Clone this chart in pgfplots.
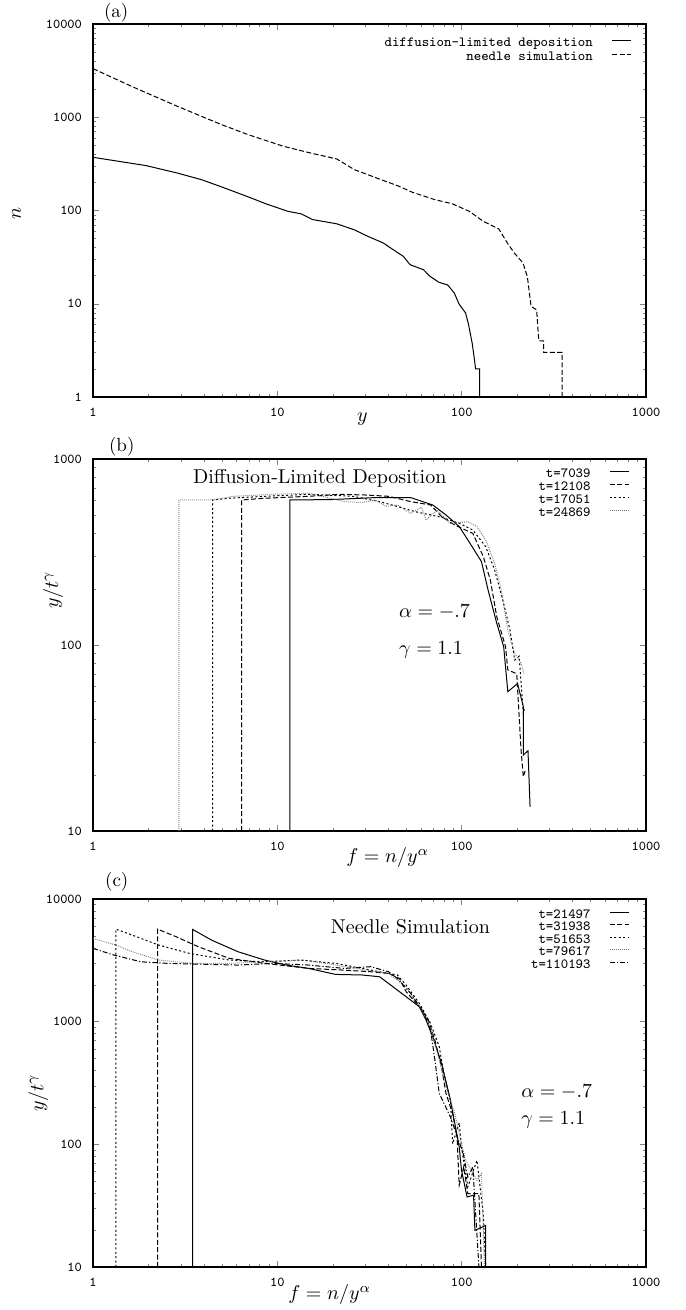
\documentclass[border=0pt]{standalone}
\usepackage{pgfplots}
\pgfplotsset{compat=1.18}

% settings shared by the three panels
\pgfplotsset{
  scale only axis, width=276.5pt,
  xmin=1, xmax=1000,
  xtick={1,10,100,1000}, xticklabels={1,10,100,1000},
  minor xtick={2,3,4,5,6,7,8,9,20,30,40,50,60,70,80,90,200,300,400,500,600,700,800,900},
  minor ytick={2,3,4,5,6,7,8,9,20,30,40,50,60,70,80,90,200,300,400,500,600,700,800,900,2000,3000,4000,5000,6000,7000,8000,9000},
  tick align=inside,
  major tick length=3pt, minor tick length=1.5pt,
  tick label style={font=\ttfamily\fontsize{6.8}{8}\selectfont},
  xticklabel style={yshift=-2pt},
  yticklabel style={xshift=-2pt},
  axis line style={line width=0.6pt},
  legend plot pos=right,
  legend cell align=right,
  legend image code/.code={\draw[#1] (0pt,1.6pt) -- (9.5pt,1.6pt);},
  legend style={draw=none, fill=none, inner sep=0pt,
    font=\ttfamily\fontsize{7}{8}\selectfont,
    nodes={inner sep=0pt, text height=4.5pt, text depth=1.5pt},
    column sep=9.5pt, anchor=north east},
  every axis plot/.append style={line width=0.5pt, black},
}
\tikzset{
  lsol/.style={solid},
  ldsh/.style={dash pattern=on 2.5pt off 1.2pt},
  ldtt/.style={dash pattern=on 1pt off 1.2pt},
  lfin/.style={black!55, dash pattern=on 0.4pt off 0.6pt},
  ldd/.style={dash pattern=on 2.5pt off 1pt on 0.6pt off 1pt},
}

\begin{document}
\begin{tikzpicture}
\useasboundingbox (-46.5pt,-21.5pt) rectangle (296pt,633.5pt);

% (a)
\begin{loglogaxis}[at={(0pt,435pt)}, anchor=south west, height=186.5pt,
  ymin=1, ymax=10000,
  ytick={1,10,100,1000,10000}, yticklabels={1,10,100,1000,10000},
  title={(a)},
  title style={at={(0.042,1)}, anchor=center, yshift=-0.5pt, font=\fontsize{9.5}{11}\selectfont},
  xlabel={$y$}, ylabel={$n$},
  xlabel style={at={(0.487,0)}, anchor=center, yshift=-11pt},
  ylabel style={at={(-0.138,0.493)}, anchor=center},
  legend style={at={(0.975,0.965)}, row sep=1pt},
]
\addplot[lsol] coordinates {(1,372) (1.94,303) (2.87,252) (3.88,214) (4.99,179) (6.95,140) (8.67,118) (11.4,98) (13.5,92) (15.5,80) (21,72) (26.2,62) (31,52.8) (37.6,44.8) (42,38.6) (48.3,32.2) (52.5,26.2) (62,23.2) (67.3,19.7) (75.2,17) (84,15.9) (91.3,13) (96.6,10) (105,7.96) (109,5.97) (114,3.79) (117,2.62) (119,2) (125,2) (125,1)};
\addplot[ldsh] coordinates {(1,3320) (1.65,2110) (2.87,1310) (4.99,832) (6.95,650) (10.8,488) (15.1,414) (21,357) (26.2,274) (36.6,214) (45.7,182) (53.9,157) (71.3,131) (88.9,118) (110,98) (131,76.6) (159,63.4) (177,44.8) (193,35) (215,27.4) (227,19.7) (238,9.38) (255,8.6) (262,4) (278,4) (278,3) (351,3) (351,1)};
\legend{diffusion-limited deposition, needle simulation}
\end{loglogaxis}

% (b)
\begin{loglogaxis}[at={(0pt,218pt)}, anchor=south west, height=186pt,
  ymin=10, ymax=1000,
  ytick={10,100,1000}, yticklabels={10,100,1000},
  title={(b)},
  title style={at={(0.052,1)}, anchor=center, yshift=0pt, font=\fontsize{9.5}{11}\selectfont},
  xlabel={$f=n/y^{\alpha}$}, ylabel={$y/t^{\gamma}$},
  xlabel style={at={(0.533,0)}, anchor=center, yshift=-13.5pt},
  ylabel style={at={(-0.072,0.648)}, anchor=center},
  legend style={at={(0.971,0.976)}, row sep=0.5pt},
]
\addplot[lsol] coordinates {(11.7,10) (11.7,602) (19.5,605) (34,620) (52.9,620) (69.7,566) (82.2,500) (97.1,433) (111,352) (128,281) (139,198) (155,131) (169,98) (178,56.1) (201,62) (216,46.6) (216,25.6) (229,27) (235,13.5)};
\addplot[ldsh] coordinates {(6.4,10) (6.4,602) (8.53,615) (14.8,630) (21.8,646) (30.4,640) (40.1,630) (52.9,590) (67.8,566) (77.8,490) (91.8,441) (115,398) (131,299) (143,224) (155,142) (173,98) (178,73.5) (199,70) (210,27.2) (216,19.6) (221,21)};
\addplot[ldtt] coordinates {(4.45,10) (4.45,602) (5.48,615) (8.53,630) (14.8,646) (25.8,630) (35.9,590) (44.8,555) (55.9,521) (77.8,486) (97.1,451) (115,415) (135,338) (151,253) (169,167) (183,120) (194,83) (205,87) (216,43) (220,45)};
\addplot[lfin] coordinates {(2.92,10) (2.92,602) (4.4,602) (5.8,630) (9.5,646) (14.8,655) (23.1,590) (28.8,583) (34,602) (39,555) (44.8,566) (52.9,510) (60.6,550) (64,470) (73.7,530) (86.6,451) (108,460) (121,433) (135,367) (151,275) (164,198) (178,120) (194,90) (210,80) (218,70)};
\legend{t=7039, t=12108, t=17051, t=24869}
\node at (rel axis cs:0.41,0.949) {Diffusion-Limited Deposition};
\node[anchor=west] at (rel axis cs:0.541,0.589) {$\alpha=-.7$};
\node[anchor=west] at (rel axis cs:0.541,0.487) {$\gamma=1.1$};
\end{loglogaxis}

% (c)
\begin{loglogaxis}[at={(0pt,0pt)}, anchor=south west, height=184pt,
  ymin=10, ymax=10000,
  ytick={10,100,1000,10000}, yticklabels={10,100,1000,10000},
  title={(c)},
  title style={at={(0.043,1)}, anchor=center, yshift=2.5pt, font=\fontsize{9.5}{11}\selectfont},
  xlabel={$f=n/y^{\alpha}$}, ylabel={$y/t^{\gamma}$},
  xlabel style={at={(0.428,0)}, anchor=center, yshift=-14pt},
  ylabel style={at={(-0.099,0.473)}, anchor=center},
  legend style={at={(0.971,0.973)}, row sep=0.25pt},
]
\addplot[lsol] coordinates {(3.47,10) (3.47,5650) (4.40,4620) (6.12,3715) (8.53,3178) (11.2,2893) (14.8,2717) (20.7,2427) (28.8,2402) (35.9,2322) (40.1,2050) (50,1596) (59,1322) (64.1,1030) (69.7,752) (77.8,456) (86.9,229) (91.8,148) (97,95) (99.8,61.5) (107,37.2) (116,38.5) (118,19.9) (135,21.8) (135,10)};
\addplot[ldsh] coordinates {(2.24,10) (2.24,5680) (2.83,4920) (3.73,4080) (5.48,3283) (8.53,2988) (14.8,2717) (23.1,2630) (32.1,2552) (40.1,2473) (46,2250) (50,1754) (59,1322) (66,1030) (71.6,706) (77.8,428) (82.2,260) (89.3,178) (94.4,115) (97,46.4) (102.6,65.5) (108,39.7) (124,39.7) (128,10)};
\addplot[ldtt] coordinates {(1.33,10) (1.33,5680) (1.63,5080) (2.27,4210) (3.34,3600) (5.48,3178) (8.53,3076) (13.3,3178) (20.7,2988) (28.8,2717) (35.9,2552) (44.8,2402) (50,1986) (59,1406) (67.8,966) (75.6,624) (80.1,378) (86.9,229) (89.3,101) (97,150) (99.8,95) (108,45) (121,74) (131,27.2) (135,10)};
\addplot[lfin] coordinates {(1,4770) (1.33,4210) (1.63,3715) (2.27,3178) (3.52,2988) (5.48,2988) (8.53,3076) (14,3178) (20.7,2893) (30.4,2630) (40.1,2473) (50,1923) (59,1322) (67.8,908) (75.6,486) (82.2,294) (91.8,178) (97,122) (105,74) (121,51) (128,57.7) (133,10)};
\addplot[ldd] coordinates {(1,3955) (1.30,3490) (1.82,3076) (2.53,2988) (3.73,2944) (6.12,2893) (9.5,2988) (14.8,2893) (23.1,2717) (32.1,2806) (40.1,2552) (44.8,2250) (52.9,1698) (62.7,1167) (67.8,853) (71.6,486) (75.6,260) (86.9,167) (102,84) (108,54) (115,65.5) (124,10)};
\legend{t=21497, t=31938, t=51653, t=79617, t=110193}
\node at (rel axis cs:0.574,0.924) {Needle Simulation};
\node[anchor=west] at (rel axis cs:0.762,0.476) {$\alpha=-.7$};
\node[anchor=west] at (rel axis cs:0.762,0.40) {$\gamma=1.1$};
\end{loglogaxis}
\end{tikzpicture}
\end{document}
